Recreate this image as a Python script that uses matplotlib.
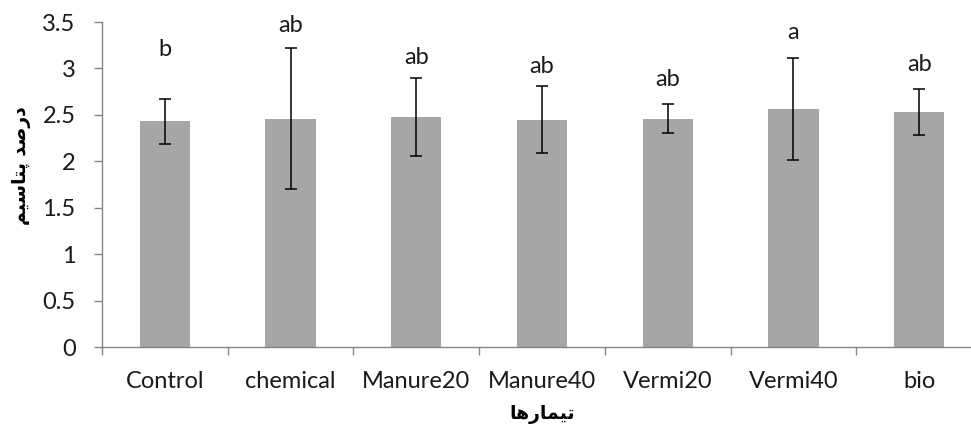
import numpy as np
import matplotlib
matplotlib.use('Agg')
import matplotlib.pyplot as plt

# data
treatments = ['Control', 'chemical', 'Manure20', 'Manure40', 'Vermi20', 'Vermi40', 'bio']
potassium = [2.43, 2.46, 2.48, 2.45, 2.46, 2.56, 2.53]
err = [0.245, 0.755, 0.42, 0.36, 0.153, 0.55, 0.25]
letters = ['b', 'ab', 'ab', 'ab', 'ab', 'a', 'ab']
letter_y = [3.09, 3.35, 3.00, 2.91, 2.77, 3.27, 2.93]
yticks = [0, 0.5, 1, 1.5, 2, 2.5, 3, 3.5]

# Persian axis titles, written in presentation forms (visual order) since matplotlib does no shaping
xlab = '\uFE8E\uFEEB\uFEAD\uFE8E\uFEE4\uFEF4\uFE97'                          # تیمارها
ylab = '\uFEE2\uFEF4\uFEB3\uFE8E\uFE98\uFB58 \uFEAA\uFEBB\uFEAD\uFEA9'      # درصد پتاسیم

plt.rcParams['font.family'] = ['Lato', 'DejaVu Sans']
fig = plt.figure(figsize=(9.71, 4.28), dpi=100)
ax = fig.add_axes([102/971, 81/428, 880/971, 325/428])

x = np.arange(len(treatments))
ax.bar(x, potassium, width=0.4, color='#a6a6a6', zorder=2)
ax.errorbar(x, potassium, yerr=err, fmt='none', ecolor='black', elinewidth=1.1,
            capsize=4.6, capthick=1.1, zorder=3)
for xi, t, yy in zip(x, letters, letter_y):
    ax.text(xi, yy, t, ha='center', va='bottom', fontsize=17, color='#1a1a1a')

ax.set_xlim(-0.5, len(treatments) - 0.5)
ax.set_ylim(0, 3.5)
ax.set_yticks(yticks)
ax.set_yticklabels(['0', '0.5', '1', '1.5', '2', '2.5', '3', '3.5'])
ax.set_xticks(np.arange(len(treatments) + 1) - 0.5)
ax.set_xticklabels([])
ax.set_xticks(x, minor=True)
ax.set_xticklabels(treatments, minor=True)
ax.tick_params(axis='x', which='major', length=6, color='#868686', width=1)
ax.tick_params(axis='x', which='minor', length=0, pad=17, labelsize=17, labelcolor='#1a1a1a')
ax.tick_params(axis='y', length=6, color='#868686', width=1, pad=13, labelsize=17, labelcolor='#1a1a1a')
for s in ['top', 'right']:
    ax.spines[s].set_visible(False)
for s in ['left', 'bottom']:
    ax.spines[s].set_color('#868686')
    ax.spines[s].set_linewidth(1)

fig.text(22/971, 1 - 166/428, ylab, rotation=90, ha='center', va='center',
         fontsize=13.5, fontweight='bold', family='DejaVu Sans', color='black')
fig.text(542/971, 1 - 414/428, xlab, ha='center', va='center',
         fontsize=13.5, fontweight='bold', family='DejaVu Sans', color='black')

fig.savefig('out.png', dpi=100)
